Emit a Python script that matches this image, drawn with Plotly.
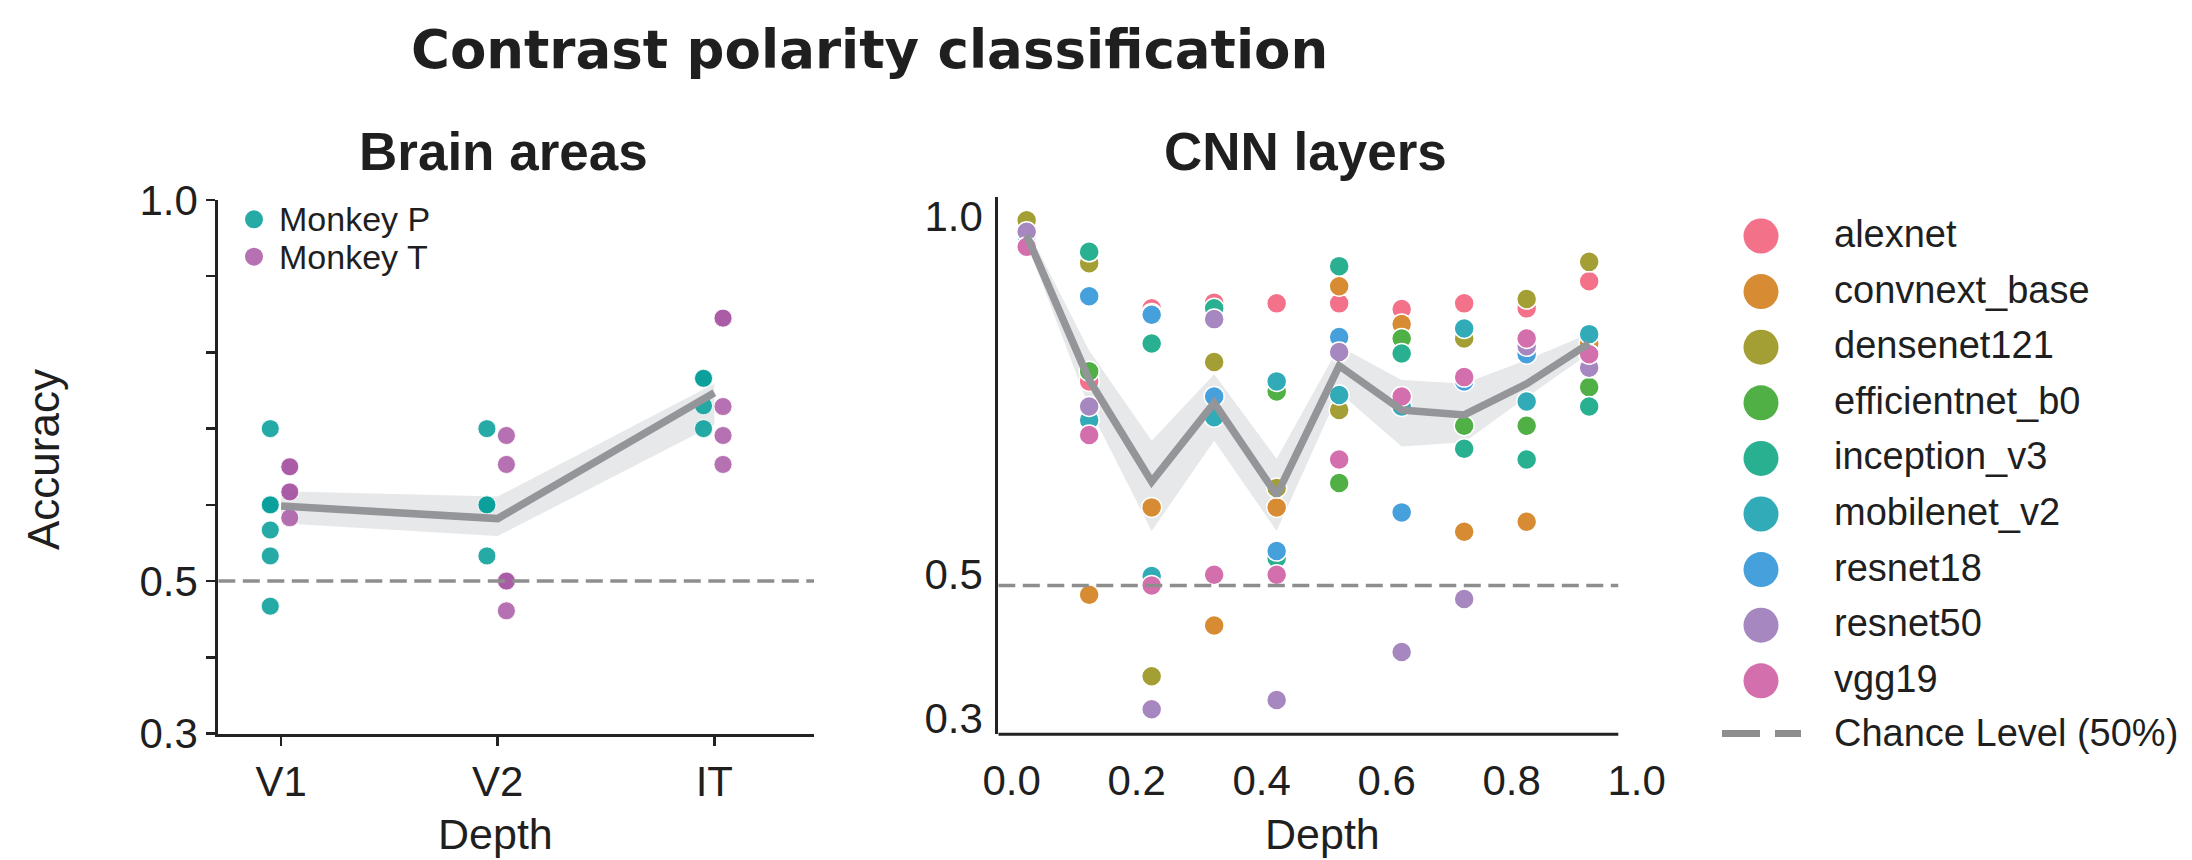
import numpy as np
import plotly.graph_objects as go

W, H = 2192, 860

# ---------------- data: brain areas ----------------
brain_areas = ["V1", "V2", "IT"]
monkey_p_v1 = [0.700, 0.600, 0.600, 0.567, 0.533, 0.467]
monkey_p_v2 = [0.700, 0.600, 0.600, 0.533]
monkey_p_it = [0.766, 0.766, 0.730, 0.700]
monkey_t_v1 = [0.650, 0.650, 0.617, 0.617, 0.583]
monkey_t_v2 = [0.691, 0.653, 0.500, 0.500, 0.461]
monkey_t_it = [0.845, 0.845, 0.729, 0.691, 0.653]
brain_ci_low = [0.576, 0.559, 0.705]
brain_ci_high = [0.618, 0.611, 0.759]
chance_brain = 0.5

# ---------------- data: CNN layers ----------------
layer_depth = [0.024, 0.124, 0.224, 0.324, 0.424, 0.524, 0.624, 0.724, 0.824, 0.924]
model_names = ["alexnet", "convnext_base", "densenet121", "efficientnet_b0",
               "inception_v3", "mobilenet_v2", "resnet18", "resnet50", "vgg19"]
alexnet = [0.970, 0.770, 0.872, 0.880, 0.879, 0.879, 0.871, 0.879, 0.872, 0.910]
convnext_base = [0.975, 0.472, 0.594, 0.429, 0.594, 0.903, 0.850, 0.560, 0.574, 0.823]
densenet121 = [0.995, 0.935, 0.358, 0.797, 0.621, 0.730, 0.747, 0.830, 0.885, 0.937]
efficientnet_b0 = [0.970, 0.784, 0.865, 0.856, 0.756, 0.628, 0.830, 0.708, 0.708, 0.762]
inception_v3 = [0.975, 0.951, 0.823, 0.872, 0.523, 0.931, 0.809, 0.676, 0.661, 0.735]
mobilenet_v2 = [0.970, 0.716, 0.498, 0.720, 0.770, 0.751, 0.735, 0.844, 0.742, 0.836]
resnet18 = [0.974, 0.889, 0.863, 0.749, 0.533, 0.832, 0.587, 0.770, 0.808, 0.808]
resnet50 = [0.979, 0.735, 0.312, 0.857, 0.325, 0.811, 0.392, 0.466, 0.819, 0.789]
vgg19 = [0.958, 0.695, 0.485, 0.500, 0.500, 0.661, 0.749, 0.776, 0.830, 0.808]
cnn_ci_low = [0.964, 0.733, 0.561, 0.687, 0.561, 0.755, 0.679, 0.685, 0.748, 0.809]
cnn_ci_high = [0.984, 0.813, 0.687, 0.780, 0.662, 0.819, 0.772, 0.767, 0.800, 0.837]
chance_cnn = 0.485

x_ticks_cnn = [0.0, 0.2, 0.4, 0.6, 0.8, 1.0]
y_ticks = [0.3, 0.5, 1.0]

# ---------------- styles ----------------
model_values = [alexnet, convnext_base, densenet121, efficientnet_b0,
                inception_v3, mobilenet_v2, resnet18, resnet50, vgg19]
model_colors = ["#f3728a", "#d78c34", "#a49f34", "#50b046", "#29b090",
                "#30abb7", "#46a0dc", "#a687c0", "#d46fad"]
col_p = "rgba(8,158,154,0.88)"
col_t = "rgba(168,88,165,0.85)"
line_gray = "#939598"
band_gray = "rgba(226,228,230,0.85)"
chance_gray = "#8e8e8e"
axis_col = "#222222"
txt_col = "#1f1f1f"
FONT = "Liberation Sans, Arial, sans-serif"

fig = go.Figure()

# ---------------- left panel ----------------
idx = list(range(len(brain_areas)))
fig.add_trace(go.Scatter(
    x=idx + idx[::-1], y=brain_ci_high + brain_ci_low[::-1],
    fill="toself", fillcolor=band_gray, line=dict(width=0), mode="lines",
    hoverinfo="skip", showlegend=False, xaxis="x", yaxis="y"))

p_groups = [monkey_p_v1, monkey_p_v2, monkey_p_it]
t_groups = [monkey_t_v1, monkey_t_v2, monkey_t_it]
dodge_p, dodge_t = -0.05, 0.04
for groups, dodge, col in [(p_groups, dodge_p, col_p), (t_groups, dodge_t, col_t)]:
    xs, ys = [], []
    for i, vals in enumerate(groups):
        xs += [i + dodge] * len(vals)
        ys += vals
    fig.add_trace(go.Scatter(
        x=xs, y=ys, mode="markers",
        marker=dict(size=18, color=col, line=dict(color="white", width=0.8)),
        showlegend=False, xaxis="x", yaxis="y", cliponaxis=False))

brain_mean = [float(np.mean(p + t)) for p, t in zip(p_groups, t_groups)]
fig.add_trace(go.Scatter(x=idx, y=brain_mean, mode="lines",
                         line=dict(color=line_gray, width=7.5),
                         showlegend=False, xaxis="x", yaxis="y"))
left_range = [-0.29, 2.46]
fig.add_trace(go.Scatter(x=left_range, y=[chance_brain] * 2, mode="lines",
                         line=dict(color=chance_gray, width=3.5, dash="17px,7.5px"),
                         showlegend=False, xaxis="x", yaxis="y"))

# ---------------- right panel ----------------
fig.add_trace(go.Scatter(
    x=layer_depth + layer_depth[::-1], y=cnn_ci_high + cnn_ci_low[::-1],
    fill="toself", fillcolor=band_gray, line=dict(width=0), mode="lines",
    hoverinfo="skip", showlegend=False, xaxis="x2", yaxis="y2"))
for name, vals, col in zip(model_names, model_values, model_colors):
    fig.add_trace(go.Scatter(
        x=layer_depth, y=vals, mode="markers", name=name,
        marker=dict(size=20, color=col, line=dict(color="white", width=1.5)),
        showlegend=False, xaxis="x2", yaxis="y2", cliponaxis=False))
cnn_mean = np.mean(np.array(model_values), axis=0)
fig.add_trace(go.Scatter(x=layer_depth, y=cnn_mean, mode="lines",
                         line=dict(color=line_gray, width=7.5),
                         showlegend=False, xaxis="x2", yaxis="y2"))
right_range = [-0.0214, 1.013]
spine_end = 0.9706
fig.add_trace(go.Scatter(x=[right_range[0], spine_end], y=[chance_cnn] * 2, mode="lines",
                         line=dict(color=chance_gray, width=3.5, dash="17px,7.5px"),
                         showlegend=False, xaxis="x2", yaxis="y2"))

# ---------------- manual legends (pixel overlay axis) ----------------
leg_x, leg_y0, leg_dy = 1761, 236, 55.6
for i, (name, col) in enumerate(zip(model_names, model_colors)):
    fig.add_trace(go.Scatter(x=[leg_x], y=[leg_y0 + i * leg_dy], mode="markers",
                             marker=dict(size=35, color=col, line=dict(width=0)),
                             showlegend=False, xaxis="x3", yaxis="y3", hoverinfo="skip"))
chance_row_y = leg_y0 + len(model_names) * leg_dy - 3
fig.add_trace(go.Scatter(x=[1722, 1801], y=[chance_row_y] * 2, mode="lines",
                         line=dict(color=chance_gray, width=7, dash="38px,15px"),
                         showlegend=False, xaxis="x3", yaxis="y3", hoverinfo="skip"))

mk_x, mk_y0, mk_dy = 254, 219.3, 37.4
for i, col in enumerate([col_p, col_t]):
    fig.add_trace(go.Scatter(x=[mk_x], y=[mk_y0 + i * mk_dy], mode="markers",
                             marker=dict(size=18, color=col, line=dict(width=0)),
                             showlegend=False, xaxis="x3", yaxis="y3", hoverinfo="skip"))

# ---------------- annotations ----------------
def px(x):
    return x / W

def py(y):
    return 1 - y / H

anns = []
def ann(text, x, y, size, weight="normal", xanchor="center", yanchor="middle",
        family=FONT, angle=0):
    anns.append(dict(text=text, x=px(x), y=py(y), xref="paper", yref="paper",
                     showarrow=False, xanchor=xanchor, yanchor=yanchor, textangle=angle,
                     font=dict(size=size, family=family, color=txt_col, weight=weight)))

ann("Contrast polarity classification", 869, 50, 53, weight="bold",
    family="DejaVu Sans, Liberation Sans, sans-serif")
ann("Brain areas", 503, 151, 53, weight="bold")
ann("CNN layers", 1305, 151, 53, weight="bold")
ann("Depth", 495, 834, 43)
ann("Depth", 1322, 834, 43)
ann("Accuracy", 44, 460, 44, angle=-90)
for i, name in enumerate(model_names):
    ann(name, 1832, leg_y0 + i * leg_dy - 2, 38, xanchor="left")
ann("Chance Level (50%)", 1832, chance_row_y, 38, xanchor="left")
for i, name in enumerate(["Monkey P", "Monkey T"]):
    ann(name, 277, mk_y0 + i * mk_dy, 34, xanchor="left")

# ---------------- layout ----------------
tickfont = dict(size=42, family=FONT, color=txt_col)
fig.update_layout(
    width=W, height=H, autosize=False,
    margin=dict(l=0, r=0, t=0, b=0, pad=0, autoexpand=False),
    paper_bgcolor="white", plot_bgcolor="rgba(0,0,0,0)",
    font=dict(family=FONT, color=txt_col),
    showlegend=False,
    annotations=anns,
    xaxis=dict(domain=[218.3 / W, 814 / W], range=left_range, anchor="y",
               tickmode="array", tickvals=idx, ticktext=brain_areas,
               ticks="outside", ticklen=9, tickwidth=2.5, tickcolor=axis_col,
               showline=True, linewidth=3, linecolor=axis_col,
               showgrid=False, zeroline=False, tickfont=tickfont),
    yaxis=dict(domain=[1 - 733.5 / H, 1 - 200 / H], range=[0.3, 1.0], anchor="x",
               tickmode="array", tickvals=y_ticks, ticktext=[f"{v:.1f}" for v in y_ticks],
               ticks="outside", ticklen=9, tickwidth=2.5, tickcolor=axis_col,
               minor=dict(tickmode="array", tickvals=[0.4, 0.6, 0.7, 0.8, 0.9],
                          ticks="outside", ticklen=9, tickwidth=2.5, tickcolor=axis_col),
               showline=True, linewidth=3, linecolor=axis_col,
               showgrid=False, zeroline=False, tickfont=tickfont),
    xaxis2=dict(domain=[998.3 / W, 1644.8 / W], range=right_range, anchor="y2",
                tickmode="array", tickvals=x_ticks_cnn,
                ticktext=[f"{v:.1f}" for v in x_ticks_cnn],
                ticks="outside", ticklen=9, tickcolor="rgba(0,0,0,0)",
                showline=False, showgrid=False, zeroline=False, tickfont=tickfont),
    yaxis2=dict(domain=[1 - 734.3 / H, 1 - 196.7 / H], range=[0.277, 1.028], anchor="x2",
                tickmode="array", tickvals=y_ticks, ticktext=[f"{v:.1f}" for v in y_ticks],
                ticks="outside", ticklen=4, tickcolor="rgba(0,0,0,0)",
                showline=True, linewidth=3, linecolor=axis_col,
                showgrid=False, zeroline=False, tickfont=tickfont),
    xaxis3=dict(domain=[0, 1], range=[0, W], visible=False, fixedrange=True, anchor="y3"),
    yaxis3=dict(domain=[0, 1], range=[H, 0], visible=False, fixedrange=True, anchor="x3"),
    shapes=[dict(type="line", xref="x2", yref="y2 domain", x0=right_range[0], x1=spine_end,
                 y0=0, y1=0, line=dict(color=axis_col, width=3))],
)

fig.write_html("out.html",
               config={"displayModeBar": False, "staticPlot": True},
               post_script="document.body.style.margin='0';document.body.style.overflow='hidden';")
